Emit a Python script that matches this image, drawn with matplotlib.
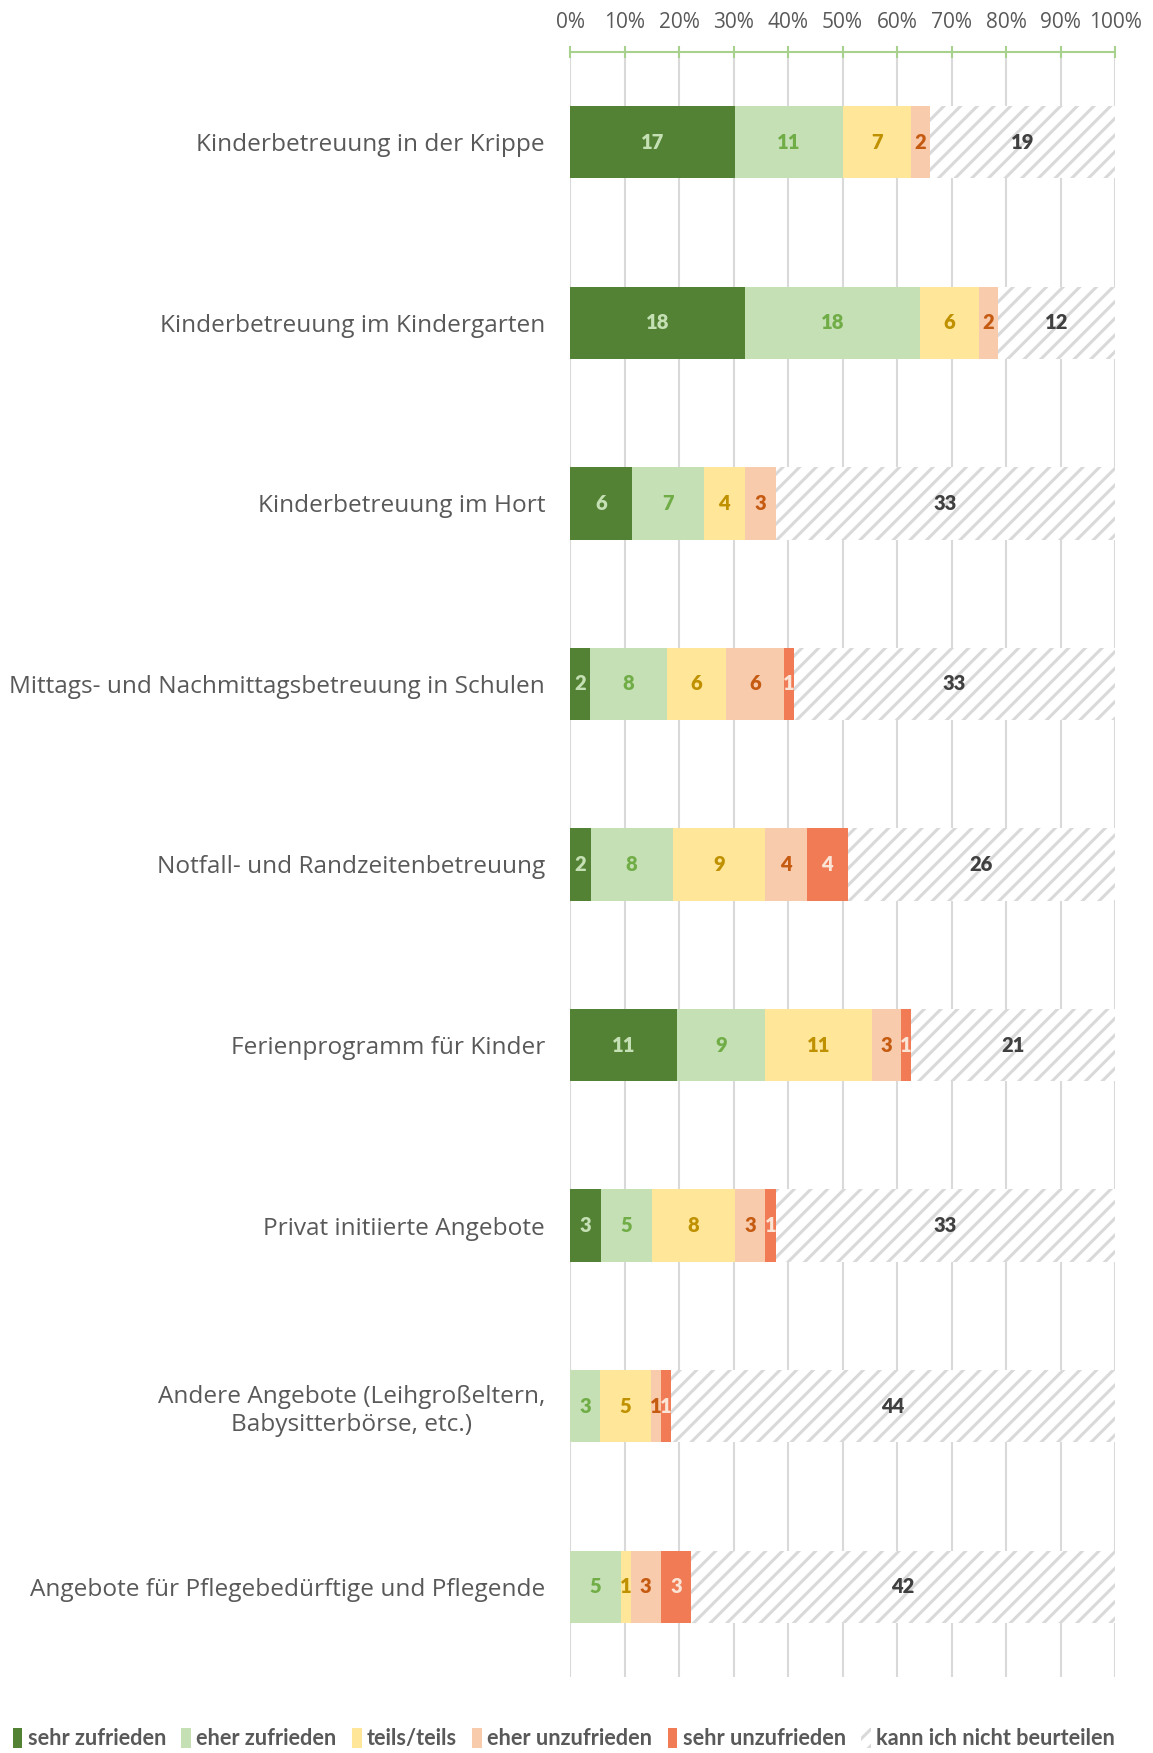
import matplotlib.pyplot as plt
import numpy as np

plt.rcParams['font.family'] = ['Open Sans', 'DejaVu Sans']
plt.rcParams['hatch.linewidth'] = 2.2

# categories top to bottom
kategorien = [
    "Kinderbetreuung in der Krippe",
    "Kinderbetreuung im Kindergarten",
    "Kinderbetreuung im Hort",
    "Mittags- und Nachmittagsbetreuung in Schulen",
    "Notfall- und Randzeitenbetreuung",
    "Ferienprogramm für Kinder",
    "Privat initiierte Angebote",
    "Andere Angebote (Leihgroßeltern,\nBabysitterbörse, etc.)",
    "Angebote für Pflegebedürftige und Pflegende",
]

serien = ["sehr zufrieden", "eher zufrieden", "teils/teils",
          "eher unzufrieden", "sehr unzufrieden", "kann ich nicht beurteilen"]

sehr_zufrieden   = [17, 18, 6, 2, 2, 11, 3, 0, 0]
eher_zufrieden   = [11, 18, 7, 8, 8, 9, 5, 3, 5]
teils_teils      = [7, 6, 4, 6, 9, 11, 8, 5, 1]
eher_unzufrieden = [2, 2, 3, 6, 4, 3, 3, 1, 3]
sehr_unzufrieden = [0, 0, 0, 1, 4, 1, 1, 1, 3]
kann_nicht       = [19, 12, 33, 33, 26, 21, 33, 44, 42]

tick_labels = [f"{p}%" for p in range(0, 101, 10)]

werte = np.array([sehr_zufrieden, eher_zufrieden, teils_teils,
                  eher_unzufrieden, sehr_unzufrieden, kann_nicht], dtype=float)
anteile = werte / werte.sum(axis=0) * 100

farben = ["#548235", "#C5E0B4", "#FFE699", "#F8CBAD", "#F07B55", "white"]
textfarben = ["#C5E0B4", "#70AD47", "#BF9000", "#C55A11", "#FBE5D6", "#404040"]

fig = plt.figure(figsize=(11.53, 17.53), dpi=100)
ax = fig.add_axes([0.4944, 0.0434, 0.4727, 0.9269])

y = np.arange(len(kategorien))
links = np.zeros(len(kategorien))
handles = []
for i, name in enumerate(serien):
    if i == 5:
        bars = ax.barh(y, anteile[i], left=links, height=0.4, color="white",
                       edgecolor="#D9D9D9", hatch="//", linewidth=0, label=name, zorder=2)
    else:
        bars = ax.barh(y, anteile[i], left=links, height=0.4, color=farben[i],
                       linewidth=0, label=name, zorder=2)
    handles.append(bars)
    for j in range(len(kategorien)):
        if werte[i, j] > 0:
            ax.text(links[j] + anteile[i, j] / 2, y[j], f"{int(werte[i, j])}",
                    ha="center", va="center", fontsize=14.5, fontweight="heavy",
                    color=textfarben[i], family=["Lato", "DejaVu Sans"], zorder=3)
    links += anteile[i]

ax.set_xlim(0, 100)
ax.set_ylim(len(kategorien) - 0.5, -0.5)
ax.set_yticks(y)
ax.set_yticklabels(kategorien, fontsize=17.6, color="#595959")
ax.set_xticks(range(0, 101, 10))
ax.set_xticklabels(tick_labels, fontsize=15, color="#595959")
ax.xaxis.tick_top()
ax.tick_params(axis="x", direction="inout", length=8, color="#A9D18E", width=1.5, pad=10)
ax.tick_params(axis="y", length=0, pad=18)
ax.grid(axis="x", color="#D9D9D9", linewidth=1.5, zorder=0)
for s in ["left", "right", "bottom"]:
    ax.spines[s].set_visible(False)
ax.spines["top"].set_color("#A9D18E")
ax.spines["top"].set_linewidth(1.5)
for lbl in ax.get_yticklabels():
    lbl.set_multialignment("center")

fig.legend(handles=handles, labels=serien, loc="lower left", bbox_to_anchor=(-0.006, -0.009),
           ncol=6, frameon=False, handlelength=0.45, handleheight=1.1, handletextpad=0.25,
           columnspacing=0.7, prop={"family": ["Lato", "DejaVu Sans"], "weight": "bold", "size": 15.6},
           labelcolor="#595959")

fig.savefig("out.png", dpi=100)
